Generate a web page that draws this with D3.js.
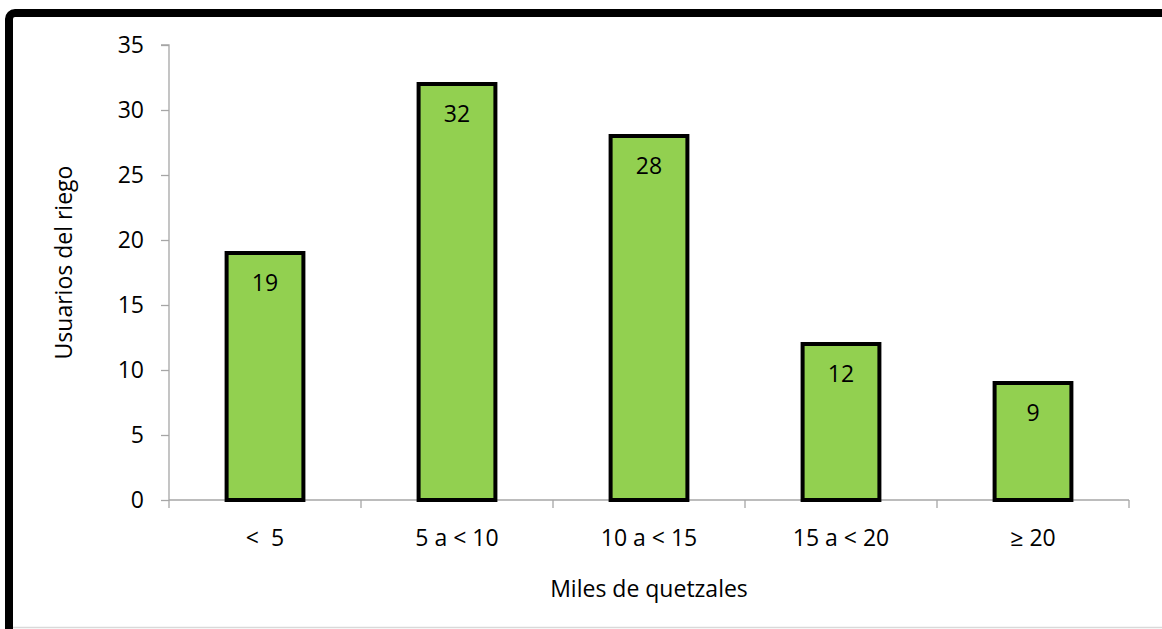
<!DOCTYPE html>
<html>
<head>
<meta charset="utf-8">
<script src="https://cdn.jsdelivr.net/npm/d3@7"></script>
<style>
  html, body { margin: 0; padding: 0; background: #fff; }
  svg { display: block; }
  text { font-family: "Open Sans", sans-serif; fill: #000; }
</style>
</head>
<body>
<svg id="chart" width="1162" height="629"></svg>
<script>
// Income brackets (thousands of quetzales) and number of irrigation users
const categories = ["<  5", "5 a < 10", "10 a < 15", "15 a < 20", "\u2265 20"];
const users = [19, 32, 28, 12, 9];
const yTicks = [0, 5, 10, 15, 20, 25, 30, 35];

const svg = d3.select("#chart");
const W = 1162, H = 629;
const plot = { left: 169, right: 1129, top: 45, bottom: 500 };
const FONT = "23px";

// chart frame: thick black outline running off the right and bottom edges
svg.append("line")
  .attr("x1", 13).attr("x2", W).attr("y1", 627.5).attr("y2", 627.5)
  .attr("stroke", "#d9d9d9").attr("stroke-width", 1.5);
svg.append("rect")
  .attr("x", 9).attr("y", 13).attr("width", W + 50).attr("height", H + 50)
  .attr("rx", 6).attr("fill", "none")
  .attr("stroke", "#000").attr("stroke-width", 8);

const x = d3.scaleBand().domain(categories).range([plot.left, plot.right]).padding(0);
const y = d3.scaleLinear().domain([0, 35]).range([plot.bottom, plot.top]);
const barW = x.bandwidth() * 0.4;

// y axis
const yAxis = svg.append("g")
  .attr("transform", `translate(${plot.left},0)`)
  .call(d3.axisLeft(y).tickValues(yTicks).tickSize(8).tickPadding(17).tickFormat(d3.format("d")));
yAxis.select(".domain").attr("stroke", "#a6a6a6").attr("stroke-width", 1.3)
  .attr("d", `M-8,${y(35)}H0V${y(0)}`);
yAxis.selectAll(".tick line").attr("stroke", "#a6a6a6").attr("stroke-width", 1.3);
yAxis.selectAll(".tick text").style("font-size", FONT).style("font-family", "'Open Sans', sans-serif");

// x axis baseline with boundary ticks between categories
const bounds = categories.map(c => x(c)).concat([plot.right]);
svg.append("line")
  .attr("x1", plot.left).attr("x2", plot.right)
  .attr("y1", plot.bottom).attr("y2", plot.bottom)
  .attr("stroke", "#a6a6a6").attr("stroke-width", 1.3);
svg.selectAll(".xtick").data(bounds).enter().append("line")
  .attr("x1", d => d).attr("x2", d => d)
  .attr("y1", plot.bottom).attr("y2", plot.bottom + 8)
  .attr("stroke", "#a6a6a6").attr("stroke-width", 1.3);
svg.selectAll(".xlabel").data(categories).enter().append("text")
  .attr("x", d => x(d) + x.bandwidth() / 2)
  .attr("y", 537)
  .attr("text-anchor", "middle")
  .attr("dominant-baseline", "central")
  .style("font-size", FONT)
  .style("white-space", "pre")
  .attr("xml:space", "preserve")
  .text(d => d);

// bars
svg.selectAll(".bar").data(users).enter().append("rect")
  .attr("x", (d, i) => x(categories[i]) + (x.bandwidth() - barW) / 2)
  .attr("y", d => y(d))
  .attr("width", barW)
  .attr("height", d => y(0) - y(d))
  .attr("fill", "#92d050")
  .attr("stroke", "#000")
  .attr("stroke-width", 4);

// value labels inside the top of each bar
svg.selectAll(".val").data(users).enter().append("text")
  .attr("x", (d, i) => x(categories[i]) + x.bandwidth() / 2)
  .attr("y", d => y(d) + 29)
  .attr("text-anchor", "middle")
  .attr("dominant-baseline", "central")
  .style("font-size", FONT)
  .text(d => d);

// axis titles
svg.append("text")
  .attr("x", (plot.left + plot.right) / 2).attr("y", 588)
  .attr("text-anchor", "middle").attr("dominant-baseline", "central")
  .style("font-size", FONT)
  .text("Miles de quetzales");
svg.append("text")
  .attr("transform", `translate(63,${(plot.top + plot.bottom) / 2 - 10}) rotate(-90)`)
  .attr("text-anchor", "middle").attr("dominant-baseline", "central")
  .style("font-size", FONT)
  .text("Usuarios del riego");
</script>
</body>
</html>
